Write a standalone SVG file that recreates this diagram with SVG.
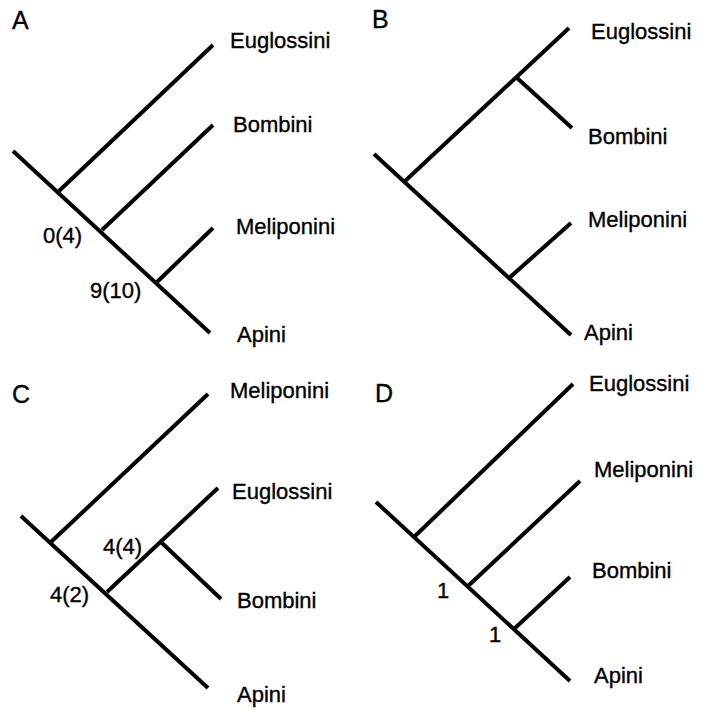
<svg xmlns="http://www.w3.org/2000/svg" width="703" height="710" viewBox="0 0 703 710">
<style>
.b{stroke:#000;stroke-width:4;fill:none;stroke-linecap:butt}
text{font-family:"Liberation Sans",Arial,sans-serif;font-size:22px;fill:#000;stroke:#000;stroke-width:0.35}
.p{font-size:25px}
</style>
<rect width="703" height="710" fill="#fff"/>
<g id="panelA">
<text class="p" x="12" y="29">A</text>
<g id="edgesA" class="b">
<line x1="13" y1="151" x2="210" y2="333"/>
<line x1="59" y1="191" x2="213" y2="45"/>
<line x1="102" y1="230" x2="213" y2="125"/>
<line x1="157" y1="282" x2="213" y2="228"/>
</g>
<g id="A-Euglossini"><text x="230" y="48">Euglossini</text></g>
<g id="A-Bombini"><text x="233" y="132">Bombini</text></g>
<g id="A-Meliponini"><text x="236" y="234">Meliponini</text></g>
<g id="A-Apini"><text x="237" y="342">Apini</text></g>
<text x="43" y="243">0(4)</text>
<text x="90" y="298">9(10)</text>
</g>
<g id="panelB">
<text class="p" x="372" y="28">B</text>
<g id="edgesB" class="b">
<line x1="374" y1="154" x2="571" y2="335"/>
<line x1="404" y1="182" x2="569" y2="28"/>
<line x1="516" y1="77" x2="572" y2="128"/>
<line x1="508" y1="279" x2="571" y2="223"/>
</g>
<g id="B-Euglossini"><text x="591" y="39">Euglossini</text></g>
<g id="B-Bombini"><text x="588" y="144">Bombini</text></g>
<g id="B-Meliponini"><text x="588" y="227">Meliponini</text></g>
<g id="B-Apini"><text x="584" y="340">Apini</text></g>
</g>
<g id="panelC">
<text class="p" x="12" y="403">C</text>
<g id="edgesC" class="b">
<line x1="21" y1="516" x2="208" y2="688"/>
<line x1="51" y1="542" x2="208" y2="394"/>
<line x1="107" y1="592" x2="218" y2="488"/>
<line x1="162" y1="543" x2="221" y2="599"/>
</g>
<g id="C-Meliponini"><text x="230" y="398">Meliponini</text></g>
<g id="C-Euglossini"><text x="232" y="499">Euglossini</text></g>
<g id="C-Bombini"><text x="237" y="608">Bombini</text></g>
<g id="C-Apini"><text x="237" y="702">Apini</text></g>
<text x="103" y="554">4(4)</text>
<text x="50" y="602">4(2)</text>
</g>
<g id="panelD">
<text class="p" x="375" y="402">D</text>
<g id="edgesD" class="b">
<line x1="376" y1="502" x2="570" y2="681"/>
<line x1="414" y1="537" x2="573" y2="384"/>
<line x1="467" y1="587" x2="580" y2="481"/>
<line x1="514" y1="629" x2="570" y2="577"/>
</g>
<g id="D-Euglossini"><text x="589" y="391">Euglossini</text></g>
<g id="D-Meliponini"><text x="594" y="477">Meliponini</text></g>
<g id="D-Bombini"><text x="592" y="578">Bombini</text></g>
<g id="D-Apini"><text x="594" y="683">Apini</text></g>
<text x="437" y="598">1</text>
<text x="489" y="642">1</text>
</g>
</svg>
